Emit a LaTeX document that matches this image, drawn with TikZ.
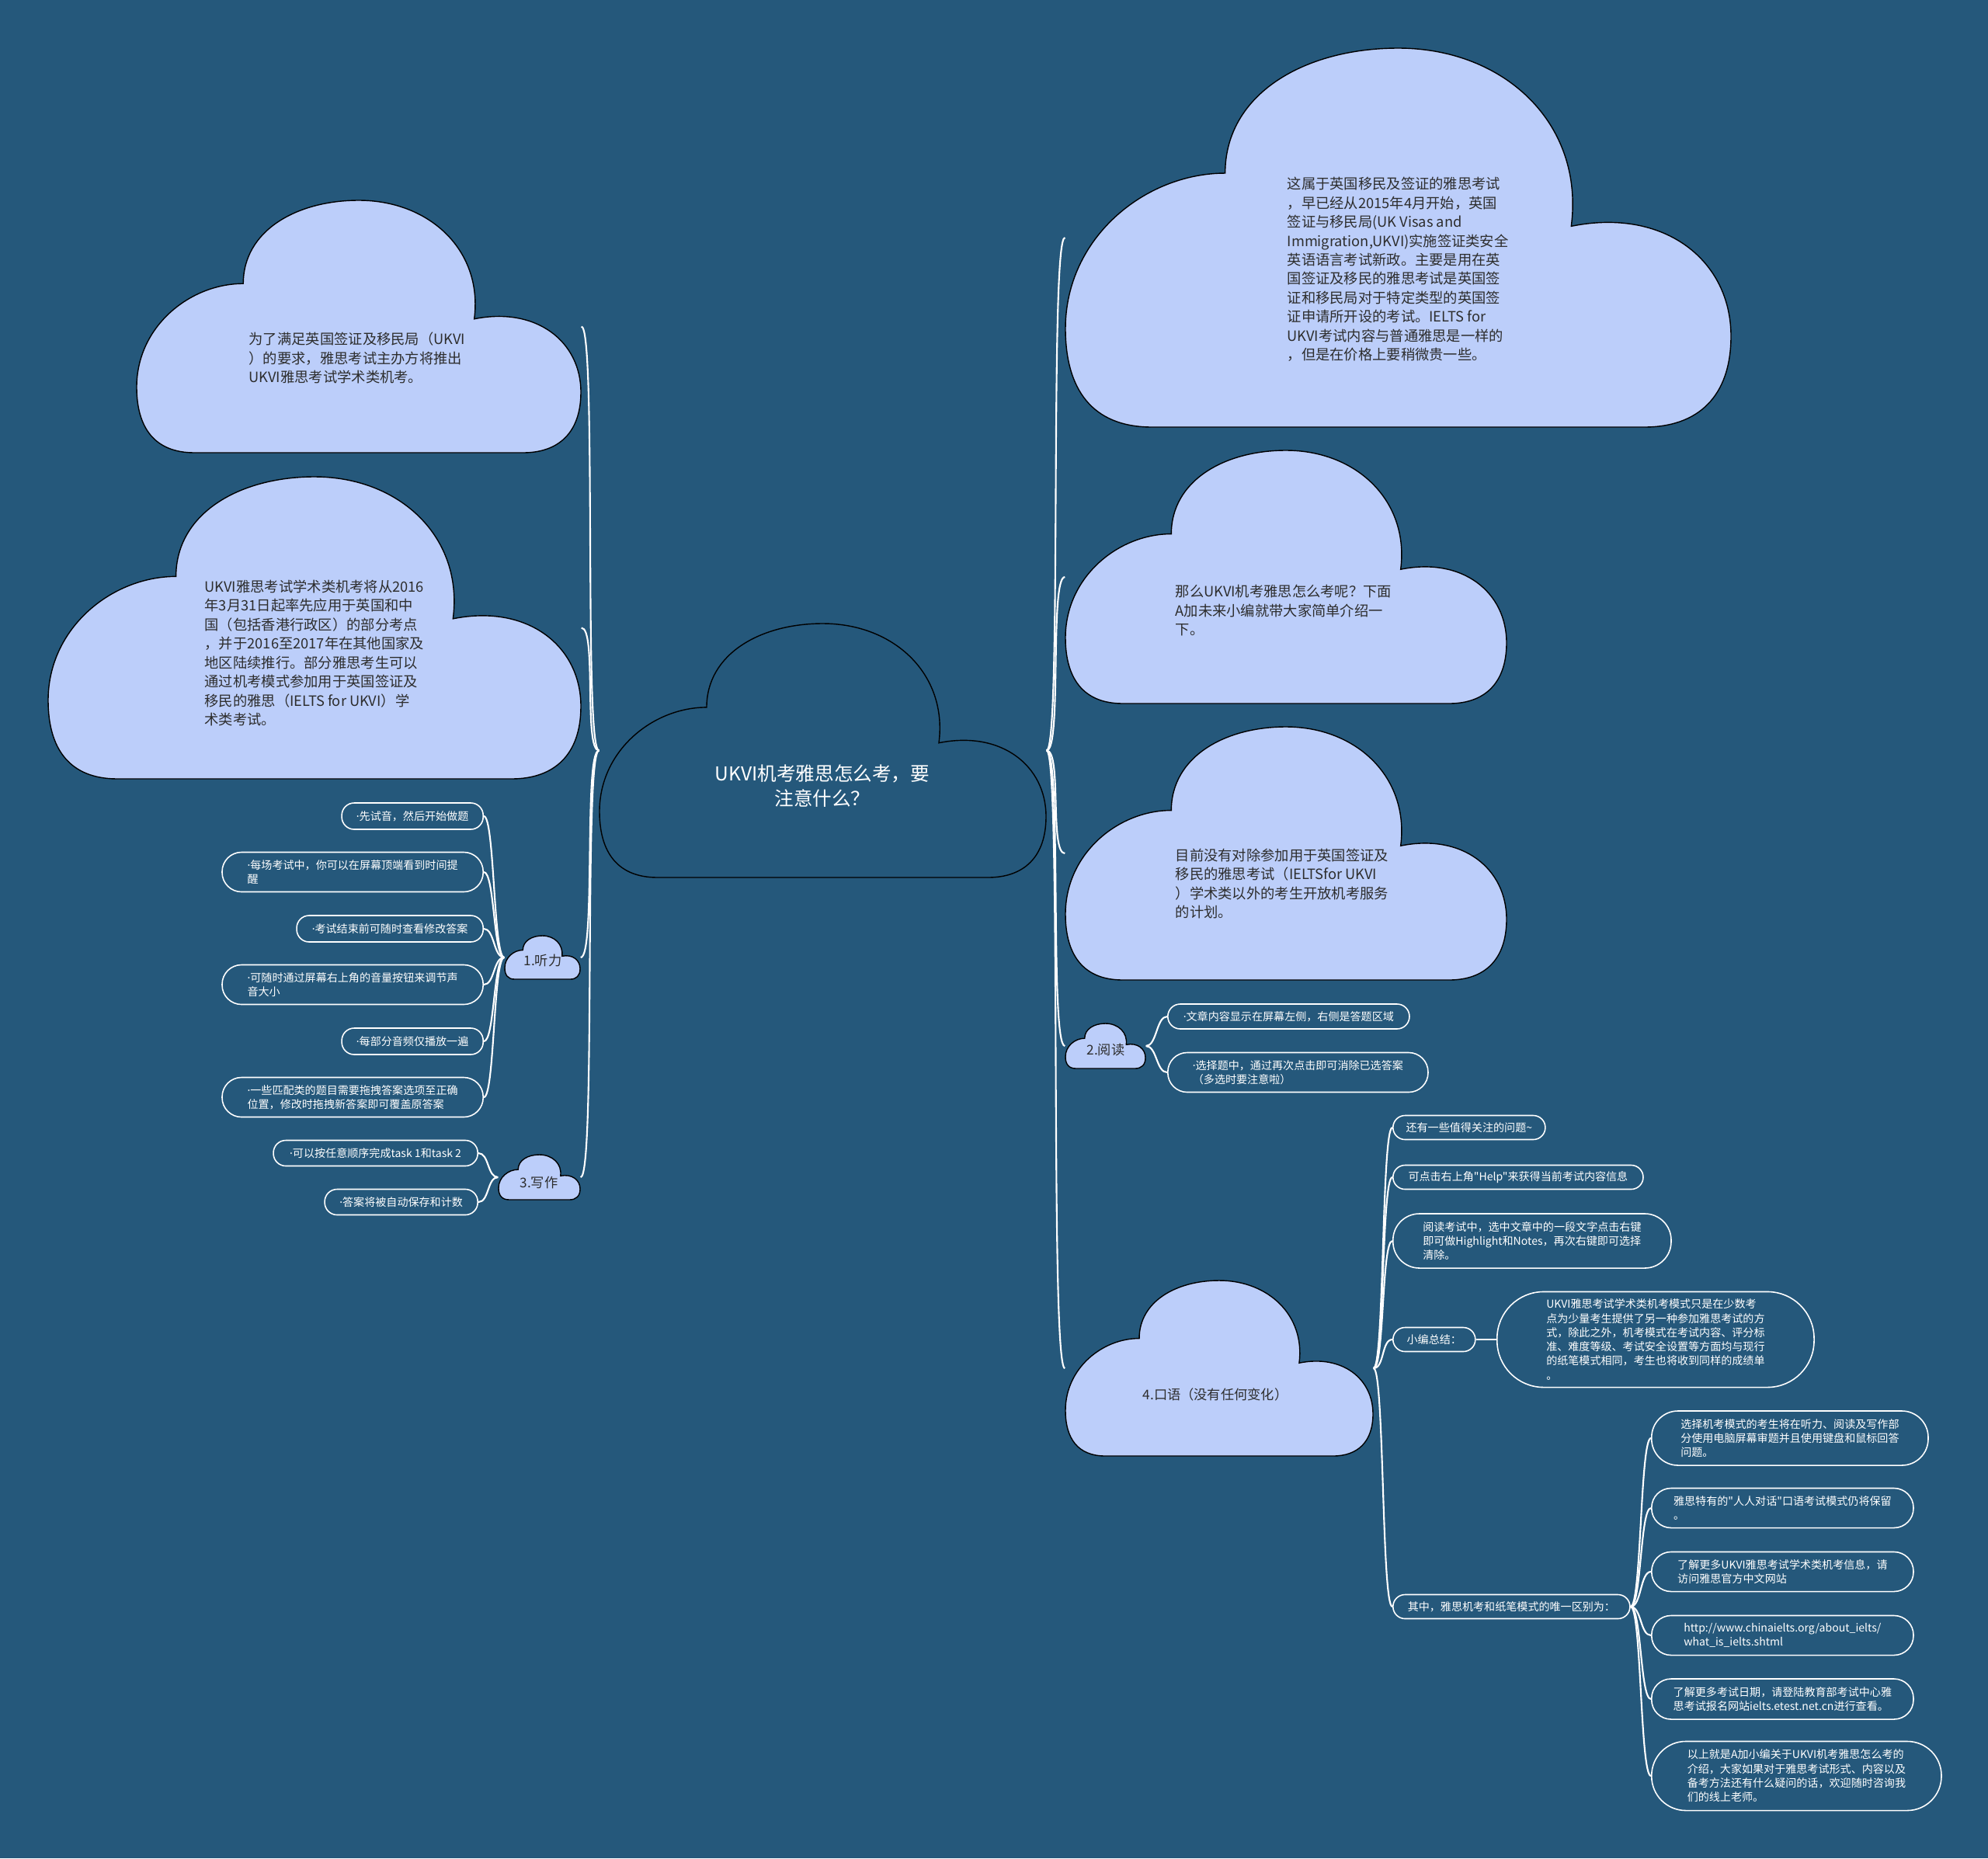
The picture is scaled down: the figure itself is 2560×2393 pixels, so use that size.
\documentclass[tikz,border=0pt]{standalone}
\usepackage{fontspec}
\usepackage{xcolor}
\usepackage{tikz}
\usetikzlibrary{positioning,fit}
\newfontfamily\cjk{Noto Sans CJK SC}
\newfontfamily\dotfont{Noto Sans}
\newcommand{\mdot}{{\dotfont ·}}
\definecolor{mapbg}{RGB}{37,88,123}
\definecolor{cloudblue}{RGB}{188,206,250}
\definecolor{inkdark}{RGB}{45,45,45}

% cloud outline in a box: name, left, top, width, height, style
\newcommand{\cloudat}[6]{%
  \begin{scope}[shift={(#2,#3)}, xscale=#4, yscale=#5]
    \path[#6] (0.13,1) .. controls (0.04,1) and (0,0.9) .. (0,0.74)
      .. controls (0,0.5) and (0.12,0.33) .. (0.24,0.33)
      .. controls (0.24,0.12) and (0.36,0) .. (0.5,0)
      .. controls (0.66,0) and (0.78,0.2) .. (0.76,0.47)
      .. controls (0.9,0.42) and (1,0.56) .. (1,0.76)
      .. controls (1,0.92) and (0.95,1) .. (0.87,1) -- cycle;
  \end{scope}
  \node[fit={(#2,#3) ({#2+#4},{#3+#5})}, inner sep=0] (#1) {};
}

\begin{document}
\begin{tikzpicture}[x=0.01cm, y=-0.01cm,
    cloudlight/.style={fill=cloudblue, draw=black, line width=0.4pt},
    clouddark/.style={fill=mapbg, draw=black, line width=0.4pt},
    cloudtxt/.style={text=inkdark, font=\cjk\fontsize{5.2pt}{6.95pt}\selectfont, align=left, inner sep=0, anchor=west},
    branchtxt/.style={text=inkdark, font=\cjk\fontsize{4.9pt}{6pt}\selectfont, inner sep=0},
    leaf/.style={draw=white, line width=0.45pt, text=white, inner sep=0, align=left,
      font=\cjk\fontsize{4pt}{5.2pt}\selectfont, rounded corners=#1},
    leaf/.default=0.16cm,
    link/.style={draw=white, line width=0.6pt}]
    \useasboundingbox (0,0) rectangle (2560,2393);
    \fill[mapbg] (0,0) rectangle (2560,2393);

    % clouds
    \cloudat{root}{772}{803}{575}{327}{clouddark}
    \cloudat{visa}{176}{258}{572}{325}{cloudlight}
    \cloudat{intro}{62}{614}{686}{389}{cloudlight}
    \cloudat{news}{1372}{62}{857}{488}{cloudlight}
    \cloudat{howto}{1372}{580}{568}{326}{cloudlight}
    \cloudat{plan}{1372}{936}{568}{326}{cloudlight}
    \cloudat{listen}{650}{1205}{97}{56}{cloudlight}
    \cloudat{write}{642}{1487}{105}{58}{cloudlight}
    \cloudat{read}{1372}{1318}{103}{58}{cloudlight}
    \cloudat{speak}{1372}{1649}{396}{226}{cloudlight}

    \node[text=white, font=\cjk\fontsize{7pt}{9.1pt}\selectfont, align=center, inner sep=0] (roottxt) at (1059,1012)
      {UKVI机考雅思怎么考，要\\注意什么？};
    \node[cloudtxt] (visatxt) at (320,461)
      {为了满足英国签证及移民局（UKVI\\）的要求，雅思考试主办方将推出\\UKVI雅思考试学术类机考。};
    \node[cloudtxt] (introtxt) at (263,841)
      {UKVI雅思考试学术类机考将从2016\\年3月31日起率先应用于英国和中\\国（包括香港行政区）的部分考点\\，并于2016至2017年在其他国家及\\地区陆续推行。部分雅思考生可以\\通过机考模式参加用于英国签证及\\移民的雅思（IELTS for UKVI）学\\术类考试。};
    \node[cloudtxt] (newstxt) at (1657,347)
      {这属于英国移民及签证的雅思考试\\，早已经从2015年4月开始，英国\\签证与移民局(UK Visas and\\Immigration,UKVI)实施签证类安全\\英语语言考试新政。主要是用在英\\国签证及移民的雅思考试是英国签\\证和移民局对于特定类型的英国签\\证申请所开设的考试。IELTS for\\UKVI考试内容与普通雅思是一样的\\，但是在价格上要稍微贵一些。};
    \node[cloudtxt] (howtotxt) at (1513,786)
      {那么UKVI机考雅思怎么考呢？下面\\A加未来小编就带大家简单介绍一\\下。};
    \node[cloudtxt] (plantxt) at (1513,1138)
      {目前没有对除参加用于英国签证及\\移民的雅思考试（IELTSfor UKVI\\）学术类以外的考生开放机考服务\\的计划。};
    \node[branchtxt] (listentxt) at (699,1237) {1.听力};
    \node[branchtxt] (writetxt) at (694,1523) {3.写作};
    \node[branchtxt] (readtxt) at (1424,1352) {2.阅读};
    \node[branchtxt] (speaktxt) at (1565,1796) {4.口语（没有任何变化）};

    % listening and writing leaves
    \node[leaf, minimum width=1.82cm, minimum height=0.34cm, anchor=east] (l1) at (623,1051) {\mdot 先试音，然后开始做题};
    \node[leaf=0.25cm, minimum width=3.36cm, minimum height=0.51cm, anchor=east] (l2) at (623,1123) {\mdot 每场考试中，你可以在屏幕顶端看到时间提\\醒};
    \node[leaf, minimum width=2.40cm, minimum height=0.34cm, anchor=east] (l3) at (623,1196) {\mdot 考试结束前可随时查看修改答案};
    \node[leaf=0.25cm, minimum width=3.36cm, minimum height=0.51cm, anchor=east] (l4) at (623,1268) {\mdot 可随时通过屏幕右上角的音量按钮来调节声\\音大小};
    \node[leaf, minimum width=1.82cm, minimum height=0.34cm, anchor=east] (l5) at (623,1341) {\mdot 每部分音频仅播放一遍};
    \node[leaf=0.25cm, minimum width=3.36cm, minimum height=0.51cm, anchor=east] (l6) at (623,1413) {\mdot 一些匹配类的题目需要拖拽答案选项至正确\\位置，修改时拖拽新答案即可覆盖原答案};
    \node[leaf, minimum width=2.63cm, minimum height=0.33cm, anchor=east] (w1) at (616,1485) {\mdot 可以按任意顺序完成task 1和task 2};
    \node[leaf, minimum width=1.97cm, minimum height=0.33cm, anchor=east] (w2) at (616,1548) {\mdot 答案将被自动保存和计数};

    % reading leaves
    \node[leaf, minimum width=3.11cm, minimum height=0.32cm, anchor=west] (r1) at (1503,1309) {\mdot 文章内容显示在屏幕左侧，右侧是答题区域};
    \node[leaf=0.25cm, minimum width=3.35cm, minimum height=0.51cm, anchor=west] (r2) at (1503,1381) {\mdot 选择题中，通过再次点击即可消除已选答案\\（多选时要注意啦）};

    % speaking leaves
    \node[leaf=0.155cm, minimum width=1.96cm, minimum height=0.31cm, anchor=west] (s1) at (1793,1452) {还有一些值得关注的问题\textasciitilde};
    \node[leaf=0.155cm, minimum width=3.22cm, minimum height=0.31cm, anchor=west] (s2) at (1793,1516) {可点击右上角"Help"来获得当前考试内容信息};
    \node[leaf=0.34cm, minimum width=3.58cm, minimum height=0.70cm, anchor=west] (s3) at (1793,1598) {阅读考试中，选中文章中的一段文字点击右键\\即可做Highlight和Notes，再次右键即可选择\\清除。};
    \node[leaf=0.155cm, minimum width=1.06cm, minimum height=0.31cm, anchor=west] (s4) at (1793,1725) {小编总结：};
    \node[leaf=0.6cm, minimum width=4.08cm, minimum height=1.23cm, anchor=west] (s4a) at (1927,1725) {UKVI雅思考试学术类机考模式只是在少数考\\点为少量考生提供了另一种参加雅思考试的方\\式，除此之外，机考模式在考试内容、评分标\\准、难度等级、考试安全设置等方面均与现行\\的纸笔模式相同，考生也将收到同样的成绩单\\。};
    \node[leaf=0.155cm, minimum width=3.05cm, minimum height=0.31cm, anchor=west] (s5) at (1793,2069) {其中，雅思机考和纸笔模式的唯一区别为：};
    \node[leaf=0.34cm, minimum width=3.56cm, minimum height=0.70cm, anchor=west] (s5a) at (2126,1852) {选择机考模式的考生将在听力、阅读及写作部\\分使用电脑屏幕审题并且使用键盘和鼠标回答\\问题。};
    \node[leaf=0.25cm, minimum width=3.37cm, minimum height=0.51cm, anchor=west] (s5b) at (2126,1942) {雅思特有的"人人对话"口语考试模式仍将保留\\。};
    \node[leaf=0.25cm, minimum width=3.37cm, minimum height=0.51cm, anchor=west] (s5c) at (2126,2024) {了解更多UKVI雅思考试学术类机考信息，请\\访问雅思官方中文网站};
    \node[leaf=0.25cm, minimum width=3.37cm, minimum height=0.51cm, anchor=west] (s5d) at (2126,2106) {http://www.chinaielts.org/about\_ielts/\\what\_is\_ielts.shtml};
    \node[leaf=0.25cm, minimum width=3.37cm, minimum height=0.52cm, anchor=west] (s5e) at (2126,2188) {了解更多考试日期，请登陆教育部考试中心雅\\思考试报名网站ielts.etest.net.cn进行查看。};
    \node[leaf=0.44cm, minimum width=3.73cm, minimum height=0.89cm, anchor=west] (s5f) at (2126,2287) {以上就是A加小编关于UKVI机考雅思怎么考的\\介绍，大家如果对于雅思考试形式、内容以及\\备考方法还有什么疑问的话，欢迎随时咨询我\\们的线上老师。};

    % connectors
    \foreach \c in {visa,intro,listen,write}
        \draw[link] (root.west) .. controls +(-20,0) and +(20,0) .. (\c.east);
    \foreach \c in {news,howto,plan,read,speak}
        \draw[link] (root.east) .. controls +(20,0) and +(-20,0) .. (\c.west);
    \foreach \i in {1,...,6}
        \draw[link] (listen.west) .. controls +(-14,0) and +(14,0) .. (l\i.east);
    \foreach \i in {1,2}
        \draw[link] (write.west) .. controls +(-14,0) and +(14,0) .. (w\i.east);
    \foreach \i in {1,2}
        \draw[link] (read.east) .. controls +(14,0) and +(-14,0) .. (r\i.west);
    \foreach \i in {1,...,5}
        \draw[link] (speak.east) .. controls +(14,0) and +(-14,0) .. (s\i.west);
    \draw[link] (s4.east) -- (s4a.west);
    \foreach \c in {s5a,s5b,s5c,s5d,s5e,s5f}
        \draw[link] (s5.east) .. controls +(14,0) and +(-14,0) .. (\c.west);
\end{tikzpicture}
\end{document}
